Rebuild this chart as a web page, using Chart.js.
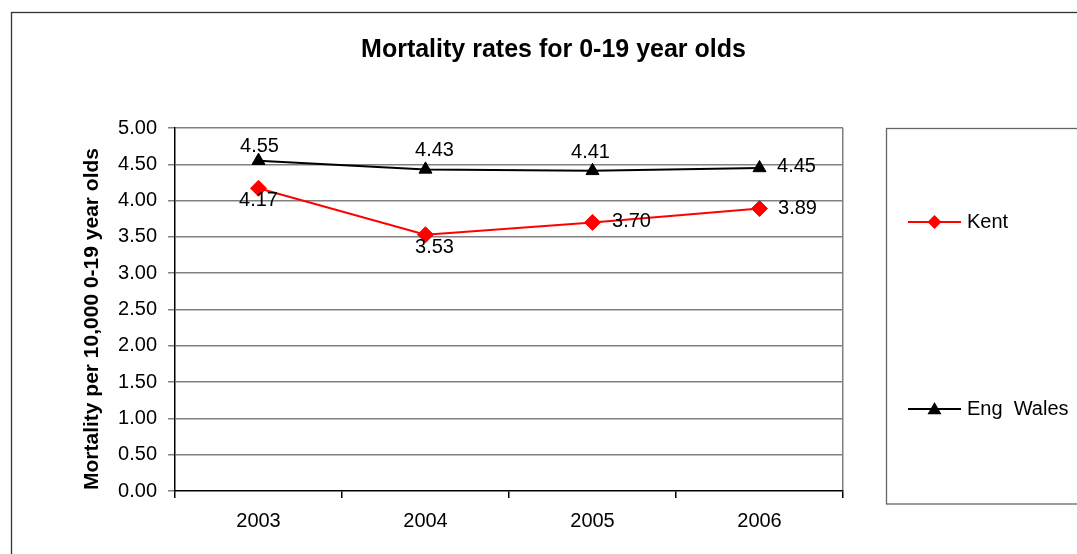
<!DOCTYPE html>
<html>
<head>
<meta charset="utf-8">
<script src="https://cdn.jsdelivr.net/npm/chart.js@4.4.1/dist/chart.umd.min.js"></script>
<style>
  html, body { margin: 0; padding: 0; background: #fff; overflow: hidden; }
  canvas { display: block; }
</style>
</head>
<body>
<canvas id="chart" width="1077" height="554"></canvas>
<script>
// ---- data ----
const years = ['2003', '2004', '2005', '2006'];
const kentRates = [4.17, 3.53, 3.70, 3.89];
const engWalesRates = [4.55, 4.43, 4.41, 4.45];
const seriesNames = ['Kent', 'Eng  Wales'];
const chartTitle = 'Mortality rates for 0-19 year olds';
const yAxisTitle = 'Mortality per 10,000 0-19 year olds';
const yMin = 0, yMax = 5, yStep = 0.5;

// ---- styling ----
const FONT = "'Liberation Sans', Arial, sans-serif";
const KENT_COLOR = '#ff0000';
const EW_COLOR = '#000000';
const GRID_COLOR = '#808080';

// value-label nudges (px from each point), per dataset
const labelNudges = [
  [[0, 12], [9, 13], [39, -1], [38, 0]],      // Kent
  [[1, -14], [9, -19], [-2, -18], [37, -1]]   // Eng Wales
];

function drawMarker(ctx, style, x, y, r, color) {
  ctx.save();
  ctx.fillStyle = color;
  ctx.beginPath();
  if (style === 'rectRot') {
    ctx.moveTo(x, y - r); ctx.lineTo(x + r, y); ctx.lineTo(x, y + r); ctx.lineTo(x - r, y);
  } else {
    ctx.moveTo(x, y - r); ctx.lineTo(x + r, y + r * 0.75); ctx.lineTo(x - r, y + r * 0.75);
  }
  ctx.closePath();
  ctx.fill();
  ctx.restore();
}

// frame, title, axis title and legend box
const framePlugin = {
  id: 'frame',
  beforeDraw(chart) {
    const ctx = chart.ctx;
    ctx.save();
    ctx.fillStyle = '#fff';
    ctx.fillRect(0, 0, chart.width, chart.height);
    ctx.strokeStyle = '#333';
    ctx.lineWidth = 1.3;
    ctx.strokeRect(11.5, 12.5, 1200, 700);

    ctx.fillStyle = '#000';
    ctx.font = 'bold 25px ' + FONT;
    ctx.textAlign = 'center';
    ctx.textBaseline = 'middle';
    ctx.fillText(chartTitle, 553.5, 50);

    ctx.save();
    ctx.translate(92.5, 319);
    ctx.rotate(-Math.PI / 2);
    ctx.font = 'bold 21px ' + FONT;
    ctx.fillText(yAxisTitle, 0, 0);
    ctx.restore();

    // legend box
    ctx.strokeStyle = '#666';
    ctx.lineWidth = 1.3;
    ctx.strokeRect(886.5, 128.5, 400, 375.5);

    const rows = [222, 409];
    chart.data.datasets.forEach((ds, i) => {
      const y = rows[i];
      ctx.strokeStyle = ds.borderColor;
      ctx.lineWidth = 2;
      ctx.beginPath();
      ctx.moveTo(908, y); ctx.lineTo(961, y);
      ctx.stroke();
      drawMarker(ctx, ds.pointStyle, 934.5, y, 7, ds.borderColor);
      ctx.fillStyle = '#000';
      ctx.font = '20px ' + FONT;
      ctx.textAlign = 'left';
      ctx.textBaseline = 'middle';
      ctx.fillText(ds.label, 967, y);
    });
    ctx.restore();
  }
};

// value labels next to each point
const valueLabelPlugin = {
  id: 'valueLabels',
  afterDatasetsDraw(chart) {
    const ctx = chart.ctx;
    ctx.save();
    ctx.fillStyle = '#000';
    ctx.font = '20px ' + FONT;
    ctx.textAlign = 'center';
    ctx.textBaseline = 'middle';
    chart.data.datasets.forEach((ds, di) => {
      const meta = chart.getDatasetMeta(di);
      meta.data.forEach((pt, i) => {
        const n = labelNudges[di][i];
        ctx.fillText(ds.data[i].toFixed(2), pt.x + n[0], pt.y + n[1]);
      });
    });
    ctx.restore();
  }
};

new Chart(document.getElementById('chart'), {
  type: 'line',
  data: {
    labels: years,
    datasets: [
      {
        label: seriesNames[0],
        data: kentRates,
        borderColor: KENT_COLOR,
        backgroundColor: KENT_COLOR,
        borderWidth: 2,
        pointStyle: 'rectRot',
        pointRadius: 8,
        pointBorderWidth: 1,
        tension: 0
      },
      {
        label: seriesNames[1],
        data: engWalesRates,
        borderColor: EW_COLOR,
        backgroundColor: EW_COLOR,
        borderWidth: 2,
        pointStyle: 'triangle',
        pointRadius: 7.5,
        pointBorderWidth: 1,
        tension: 0
      }
    ]
  },
  options: {
    responsive: false,
    animation: false,
    devicePixelRatio: 1,
    layout: { padding: { left: 0, top: 128, right: 234, bottom: 0 } },
    plugins: {
      legend: { display: false },
      title: { display: false },
      tooltip: { enabled: false }
    },
    scales: {
      x: {
        type: 'category',
        offset: true,
        grid: {
          offset: true,
          drawOnChartArea: true,
          color: c => (c.tick ? 'rgba(0,0,0,0)' : GRID_COLOR),
          tickColor: '#000',
          tickLength: 7,
          lineWidth: 1.5
        },
        border: { color: '#000', width: 1.5 },
        ticks: { color: '#000', font: { size: 20, family: FONT }, padding: 11, maxRotation: 0, autoSkip: false },
        afterFit: s => { s.height = 63; }
      },
      y: {
        min: yMin,
        max: yMax,
        grid: {
          color: c => (c.tick && c.tick.value === yMin ? 'rgba(0,0,0,0)' : GRID_COLOR),
          tickColor: GRID_COLOR,
          tickLength: 7,
          lineWidth: 1.5
        },
        border: { color: '#000', width: 1.5 },
        ticks: {
          stepSize: yStep,
          color: '#000',
          font: { size: 20, family: FONT },
          padding: 11,
          callback: v => v.toFixed(2)
        },
        afterFit: s => { s.width = 175; }
      }
    }
  },
  plugins: [framePlugin, valueLabelPlugin]
});
</script>
</body>
</html>
